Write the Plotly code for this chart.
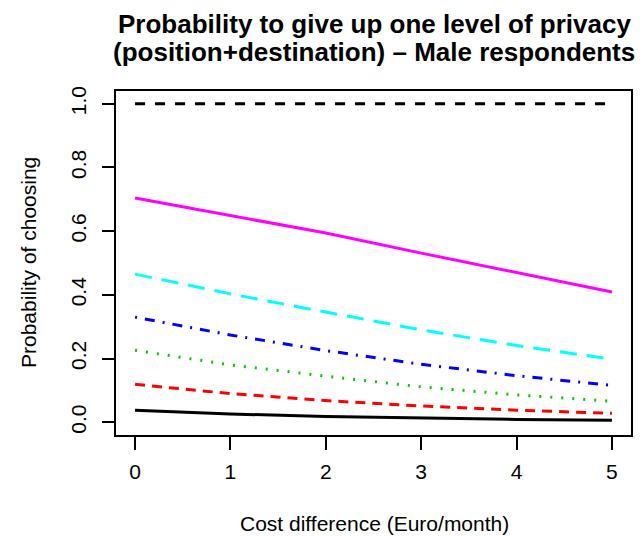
import plotly.graph_objects as go

cost = [0, 1, 2, 3, 4, 5]
p_ref = [1.0, 1.0, 1.0, 1.0, 1.0, 1.0]
p_black = [0.038, 0.026, 0.018, 0.013, 0.009, 0.006]
p_red = [0.119, 0.090, 0.068, 0.051, 0.038, 0.028]
p_green = [0.226, 0.180, 0.145, 0.111, 0.086, 0.066]
p_blue = [0.330, 0.274, 0.225, 0.182, 0.146, 0.116]
p_cyan = [0.465, 0.403, 0.346, 0.290, 0.241, 0.198]
p_magenta = [0.704, 0.650, 0.594, 0.531, 0.470, 0.409]

x_ticks = [0, 1, 2, 3, 4, 5]
y_ticks = [0.0, 0.2, 0.4, 0.6, 0.8, 1.0]
y_ticklabels = ["0.0", "0.2", "0.4", "0.6", "0.8", "1.0"]

title_lines = ["Probability to give up one level of privacy",
               "(position+destination) – Male respondents"]
x_title = "Cost difference (Euro/month)"
y_title = "Probability of choosing"

series = [
    (p_ref, "black", "10px,10px"),
    (p_black, "black", "solid"),
    (p_red, "#FF0000", "10px,7px"),
    (p_green, "#00CD00", "2px,9px"),
    (p_blue, "#0000FF", "2px,8px,10px,8px"),
    (p_cyan, "#00FFFF", "17px,10px"),
    (p_magenta, "#FF00FF", "solid"),
]

fig = go.Figure()
for vals, col, dash in series:
    fig.add_trace(go.Scatter(x=cost, y=vals, mode="lines",
                             line=dict(color=col, width=3, dash=dash),
                             showlegend=False, hoverinfo="skip"))

font = "Liberation Sans, Arial, Helvetica, sans-serif"
W, H = 643, 536
L, R, T, B = 116, 12, 91, 101
pw, ph = W - L - R, H - T - B


def px_x(x):
    return (x - L) / pw


def px_y(y):
    return (H - B - y) / ph


fig.update_layout(
    width=W, height=H,
    margin=dict(l=L, r=R, t=T, b=B),
    paper_bgcolor="white", plot_bgcolor="white",
    font=dict(family=font, size=21, color="black"),
)
fig.add_annotation(text="<b>%s</b>" % title_lines[0], xref="paper", yref="paper",
                   x=px_x(374), y=px_y(24), xanchor="center", yanchor="middle",
                   showarrow=False, font=dict(size=26))
fig.add_annotation(text="<b>%s</b>" % title_lines[1], xref="paper", yref="paper",
                   x=px_x(374), y=px_y(52), xanchor="center", yanchor="middle",
                   showarrow=False, font=dict(size=26))
fig.add_annotation(text=x_title, xref="paper", yref="paper",
                   x=px_x(374), y=px_y(523), xanchor="center", yanchor="middle",
                   showarrow=False, font=dict(size=21))
fig.add_annotation(text=y_title, xref="paper", yref="paper",
                   x=px_x(28), y=px_y(263), xanchor="center", yanchor="middle",
                   textangle=-90, showarrow=False, font=dict(size=21))

fig.update_xaxes(range=[-0.2, 5.2], tickvals=x_ticks, ticks="outside", ticklen=13,
                 tickwidth=1.5, tickcolor="black", showgrid=False, zeroline=False,
                 showline=True, linecolor="black", linewidth=2, mirror=True,
                 ticklabelstandoff=4, automargin=False)
fig.update_yaxes(range=[-0.04, 1.04], tickvals=y_ticks, ticktext=y_ticklabels,
                 ticks="outside", ticklen=12, tickwidth=1.5, tickcolor="black",
                 tickangle=-90, showgrid=False, zeroline=False,
                 showline=True, linecolor="black", linewidth=2, mirror=True,
                 ticklabelstandoff=8, automargin=False)

fig.write_html("out.html",
               config={"displayModeBar": False},
               post_script="document.body.style.margin='0';"
                           "document.body.style.overflow='hidden';")
